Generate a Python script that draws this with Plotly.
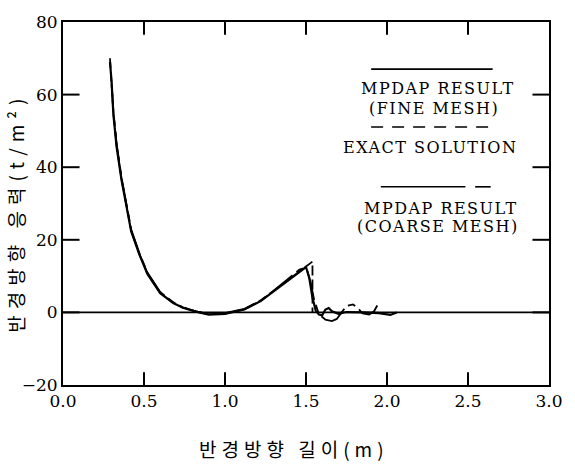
import plotly.graph_objects as go

# ---- data ----
x_exact = [0.29, 0.30, 0.311, 0.331, 0.361, 0.391, 0.421, 0.471, 0.521, 0.60, 0.68, 0.74,
           0.82, 0.90, 1.00, 1.12, 1.22, 1.30, 1.40, 1.50, 1.54, 1.54]
y_exact = [70.0, 64.0, 55.0, 46.0, 36.9, 29.7, 22.5, 16.2, 10.8, 5.4, 2.7, 1.35,
           0.3, -0.5, -0.3, 0.9, 3.2, 5.9, 9.3, 12.6, 14.0, 0.0]

x_fine = [0.29, 0.30, 0.311, 0.331, 0.361, 0.391, 0.421, 0.471, 0.521, 0.60, 0.68, 0.74,
          0.82, 0.90, 1.00, 1.12, 1.22, 1.30, 1.40, 1.50, 1.52, 1.54, 1.56, 1.58, 1.60,
          1.62, 1.64, 1.66, 1.70, 1.75, 1.85, 1.95, 2.02, 2.06]
y_fine = [69.0, 63.5, 54.5, 45.5, 36.5, 29.5, 22.3, 16.0, 10.6, 5.3, 2.6, 1.3,
          0.2, -0.6, -0.4, 0.8, 3.1, 5.8, 9.2, 12.5, 9.5, 4.0, 0.5, -0.6, -0.8,
          0.8, 1.2, 0.3, -0.4, 0.1, 0.0, -0.2, -0.7, 0.0]

x_coarse = [0.30, 0.311, 0.331, 0.361, 0.391, 0.421, 0.471, 0.521, 0.60, 0.68, 0.74,
            0.82, 0.90, 1.00, 1.12, 1.22, 1.30, 1.42, 1.46, 1.49, 1.51, 1.53, 1.55,
            1.58, 1.62, 1.66, 1.69, 1.72, 1.75, 1.79, 1.82, 1.85, 1.89, 1.92, 1.94]
y_coarse = [63.0, 55.5, 46.5, 37.3, 30.0, 22.8, 16.4, 11.0, 5.6, 2.8, 1.4,
            0.3, -0.5, -0.2, 1.0, 3.3, 6.0, 10.3, 11.8, 12.2, 11.2, 8.0, 3.5,
            -0.5, -2.0, -2.4, -1.8, 0.0, 1.8, 2.2, 1.2, -0.3, -0.6, 0.3, 1.9]

x_ticks = [0.0, 0.5, 1.0, 1.5, 2.0, 2.5, 3.0]
y_ticks = [-20, 0, 20, 40, 60, 80]

SERIF = "DejaVu Serif, Liberation Serif, serif"
KFONT = "Noto Sans CJK KR, DejaVu Serif, serif"

X_RANGE = [0, 3]
Y_RANGE = [-20, 80]

fig = go.Figure()
fig.add_trace(go.Scatter(x=x_fine, y=y_fine, mode="lines",
                         line=dict(color="black", width=2.2), name="MPDAP RESULT (FINE MESH)"))
fig.add_trace(go.Scatter(x=x_exact, y=y_exact, mode="lines",
                         line=dict(color="black", width=1.8, dash="10px,4px"), name="EXACT SOLUTION"))
fig.add_trace(go.Scatter(x=x_coarse, y=y_coarse, mode="lines",
                         line=dict(color="black", width=1.8, dash="30px,5px,8px,5px"),
                         name="MPDAP RESULT (COARSE MESH)"))

fig.add_hline(y=0, line=dict(color="black", width=1.6))

# ---- tick marks (inside, all four sides) drawn as a line trace at the tick values ----
x_span = X_RANGE[1] - X_RANGE[0]
y_span = Y_RANGE[1] - Y_RANGE[0]
xt_len = y_span * 13 / 370.0    # x-tick length in y units
yt_len = x_span * 17 / 500.0    # y-tick length in x units
tx, ty = [], []
for v in x_ticks[1:-1]:
    tx += [v, v, None, v, v, None]
    ty += [Y_RANGE[0], Y_RANGE[0] + xt_len, None, Y_RANGE[1], Y_RANGE[1] - xt_len, None]
for v in y_ticks[1:-1]:
    tx += [X_RANGE[0], X_RANGE[0] + yt_len, None, X_RANGE[1], X_RANGE[1] - yt_len, None]
    ty += [v, v, None, v, v, None]
fig.add_trace(go.Scatter(x=tx, y=ty, mode="lines", line=dict(color="black", width=2),
                         hoverinfo="skip", showlegend=False, connectgaps=False))

# ---- hand-built legend (line samples above centred labels) ----
def px_x(p):
    return (p - 63) / 500.0

def px_y(p):
    return (385 - p) / 370.0

samples = [
    (380, 505, 63, "solid"),
    (380, 505, 122, "12px,9px"),
    (390, 477, 183, "solid"),
    (487, 503, 183, "solid"),
]
for x0, x1, yy, dash in samples:
    fig.add_shape(type="line", xref="paper", yref="paper",
                  x0=px_x(x0), x1=px_x(x1), y0=px_y(yy), y1=px_y(yy),
                  line=dict(color="black", width=1.6, dash=dash))

labels = [
    ("MPDAP RESULT", 449, 83),
    ("(FINE MESH)", 445, 103),
    ("EXACT SOLUTION", 441, 143),
    ("MPDAP RESULT", 452, 205),
    ("(COARSE MESH)", 449, 223),
]
for txt, cx, cy in labels:
    fig.add_annotation(text=f'<span style="letter-spacing:1.5px">{txt}</span>',
                       xref="paper", yref="paper", x=px_x(cx), y=px_y(cy),
                       showarrow=False, xanchor="center", yanchor="middle",
                       font=dict(family=SERIF, size=16, color="black"))

# axis titles
fig.add_annotation(text='<span style="letter-spacing:6px">반경방향 응력(t/m²)</span>',
                   xref="paper", yref="paper",
                   x=px_x(14), y=px_y(209), textangle=-90, showarrow=False,
                   xanchor="center", yanchor="middle",
                   font=dict(family=KFONT, size=19, color="black"))
fig.add_annotation(text='<span style="letter-spacing:5px">반경방향 길이(m)</span>',
                   xref="paper", yref="paper",
                   x=px_x(301), y=px_y(450), showarrow=False,
                   xanchor="center", yanchor="middle",
                   font=dict(family=KFONT, size=19, color="black"))

fig.update_xaxes(range=X_RANGE, tickvals=x_ticks, ticktext=[f"{v:.1f}" for v in x_ticks],
                 ticks="", showline=True, linecolor="black", linewidth=2, mirror=True,
                 showgrid=False, zeroline=False,
                 tickfont=dict(family=SERIF, size=17, color="black"))
fig.update_yaxes(range=Y_RANGE, tickvals=y_ticks,
                 ticks="", showline=True, linecolor="black", linewidth=2, mirror=True,
                 showgrid=False, zeroline=False,
                 tickfont=dict(family=SERIF, size=17, color="black"))

fig.update_layout(width=575, height=470, showlegend=False,
                  margin=dict(l=63, r=12, t=15, b=85),
                  paper_bgcolor="white", plot_bgcolor="white")

fig.write_html("out.html")
